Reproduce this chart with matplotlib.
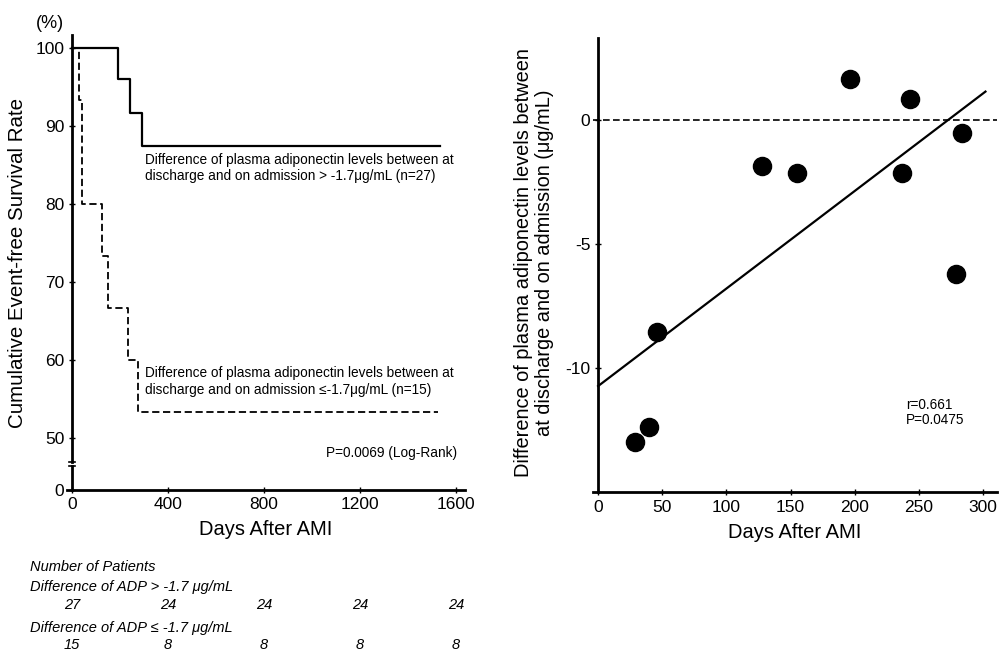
import numpy as np
import matplotlib
matplotlib.use("Agg")
import matplotlib.pyplot as plt
import matplotlib.transforms as mtransforms

plt.rcParams['font.family'] = ['Liberation Sans', 'DejaVu Sans']
plt.rcParams['axes.unicode_minus'] = False

# Kaplan-Meier curves (days, % event-free)
high_t = [0, 192, 242, 292, 1533]
high_s = [100, 96.0, 91.7, 87.4, 87.4]
low_t = [0, 28, 42, 125, 150, 233, 275, 1525]
low_s = [100, 93.3, 80.0, 73.3, 66.7, 60.0, 53.3, 53.3]

# number at risk
risk_days = [0, 400, 800, 1200, 1600]
risk_high = [27, 24, 24, 24, 24]
risk_low = [15, 8, 8, 8, 8]

# scatter: days after AMI vs change in adiponectin
days = [29, 40, 46, 128, 155, 196, 237, 243, 279, 284]
diff_adp = [-12.97, -12.4, -8.55, -1.86, -2.14, 1.65, -2.14, 0.83, -6.22, -0.53]
fit_x = [0, 302]
fit_y = [-10.73, 1.14]

W, H = 1001, 653
fig = plt.figure(figsize=(W / 100, H / 100), dpi=100)


def box(x0, y0, x1, y1):
    # pixel box -> figure fraction
    return [x0 / W, 1 - y1 / H, (x1 - x0) / W, (y1 - y0) / H]


# ---- left panel: survival with broken y axis ----
ax1 = fig.add_axes(box(67, 35, 465, 462))
ax2 = fig.add_axes(box(67, 466, 465, 490))

ax1.step(high_t, high_s, where='post', color='black', lw=1.6)
ax1.step(low_t, low_s, where='post', color='black', lw=1.3, ls=(0, (4, 2)))

for ax in (ax1, ax2):
    ax.set_xlim(-21, 1637)
    ax.spines['left'].set_position(('data', 0))
    ax.spines['right'].set_visible(False)
    ax.spines['top'].set_visible(False)
    ax.spines['left'].set_linewidth(2)
    ax.patch.set_alpha(0)
    ax.tick_params(labelsize=12.5, width=1, length=4, direction='inout')

ax1.set_ylim(46.9, 101.67)
ax1.spines['bottom'].set_visible(False)
ax1.set_xticks([])
ax1.set_yticks([50, 60, 70, 80, 90, 100])

ax2.set_ylim(0, 3.08)
ax2.set_yticks([0])
ax2.set_xticks(risk_days)
ax2.spines['bottom'].set_linewidth(2)
ax2.tick_params(axis='x', pad=3)

# break marks
ax1.plot([-12, 12], [46.9, 46.9], color='black', lw=1.2, clip_on=False)
ax2.plot([-12, 12], [3.08, 3.08], color='black', lw=1.2, clip_on=False)

ax1.text(305, 84.6, 'Difference of plasma adiponectin levels between at\n'
         'discharge and on admission > -1.7\u03bcg/mL (n=27)',
         fontsize=9.8, va='center', ha='left', linespacing=1.25)
ax1.text(305, 57.2, 'Difference of plasma adiponectin levels between at\n'
         'discharge and on admission \u2264-1.7\u03bcg/mL (n=15)',
         fontsize=9.8, va='center', ha='left', linespacing=1.25)
fig.text(457 / W, 1 - 453 / H, 'P=0.0069 (Log-Rank)', fontsize=9.8,
         ha='right', va='center')

fig.text(50 / W, 1 - 24 / H, '(%)', fontsize=13, ha='center', va='center')
fig.text(18 / W, 1 - 263 / H, 'Cumulative Event-free Survival Rate',
         fontsize=14.8, rotation=90, ha='center', va='center')
ax2.set_xlabel('Days After AMI', fontsize=14.5, labelpad=6)

# number at risk table
trans = mtransforms.blended_transform_factory(ax2.transData, fig.transFigure)
fig.text(30 / W, 1 - 567 / H, 'Number of Patients', fontsize=10.5,
         style='italic', va='center')
fig.text(30 / W, 1 - 587 / H, 'Difference of ADP > -1.7 \u03bcg/mL', fontsize=10.5,
         style='italic', va='center')
fig.text(30 / W, 1 - 628 / H, 'Difference of ADP \u2264 -1.7 \u03bcg/mL', fontsize=10.5,
         style='italic', va='center')
for d, a, b in zip(risk_days, risk_high, risk_low):
    ax2.text(d, 1 - 605 / H, str(a), transform=trans, fontsize=10.5,
             style='italic', ha='center', va='center')
    ax2.text(d, 1 - 645 / H, str(b), transform=trans, fontsize=10.5,
             style='italic', ha='center', va='center')

# ---- right panel: scatter with regression ----
ax3 = fig.add_axes(box(593, 38, 997, 492))
ax3.set_xlim(-4, 311)
ax3.set_ylim(-15, 3.3)
ax3.axhline(0, color='black', lw=1.2, ls=(0, (4, 2)))
ax3.plot(fit_x, fit_y, color='black', lw=1.6)
ax3.scatter(days, diff_adp, s=170, color='black', zorder=3)
ax3.spines['left'].set_position(('data', 0))
ax3.spines['right'].set_visible(False)
ax3.spines['top'].set_visible(False)
ax3.spines['left'].set_linewidth(2)
ax3.spines['bottom'].set_linewidth(2)
ax3.set_xticks([0, 50, 100, 150, 200, 250, 300])
ax3.set_yticks([0, -5, -10])
ax3.tick_params(labelsize=12.5, width=1, length=4, direction='inout')
ax3.set_xlabel('Days After AMI', fontsize=14.5, labelpad=6)
ax3.text(240, -11.8, 'r=0.661\nP=0.0475', fontsize=9.8, va='center',
         ha='left', linespacing=1.15)
fig.text(534 / W, 1 - 263 / H,
         'Difference of plasma adiponectin levels between\n'
         'at discharge and on admission (\u03bcg/mL)',
         fontsize=14.4, rotation=90, ha='center', va='center', linespacing=1.1)

fig.savefig('out.png', dpi=100)
